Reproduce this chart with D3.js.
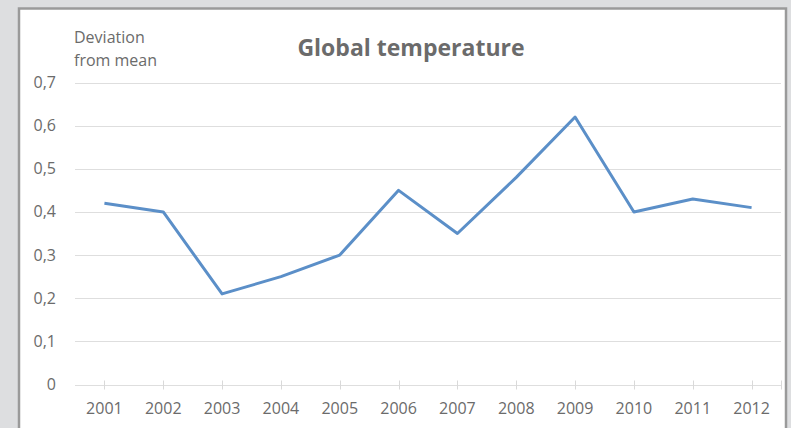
<!DOCTYPE html>
<html>
<head>
<meta charset="utf-8">
<script src="https://cdn.jsdelivr.net/npm/d3@7"></script>
<style>
    body { margin: 0; background: #dddee0; }
    svg { display: block; }
    text { font-family: "Open Sans", sans-serif; fill: #6b6b6b; }
</style>
</head>
<body>
<script>
// Chart values.
var years = ['2001', '2002', '2003', '2004', '2005', '2006',
    '2007', '2008', '2009', '2010', '2011', '2012'];
var deviation = [0.42, 0.40, 0.21, 0.25, 0.30, 0.45,
    0.35, 0.48, 0.62, 0.40, 0.43, 0.41];
var yTicks = [0, 0.1, 0.2, 0.3, 0.4, 0.5, 0.6, 0.7];

var width = 791;
var height = 428;

var svg = d3.select('body').append('svg')
    .attr('width', width)
    .attr('height', height);

// Chart frame.
svg.append('rect')
    .attr('x', 19)
    .attr('y', 8.5)
    .attr('width', 767)
    .attr('height', 430)
    .attr('fill', '#fff')
    .attr('stroke', '#9a9a9a')
    .attr('stroke-width', 2.5);

var x = d3.scaleBand()
    .domain(years)
    .range([75, 781]);

var y = d3.scaleLinear()
    .domain([0, 0.7])
    .range([384.5, 82.5]);

var fmt = function (d) {
    return d === 0 ? '0' : d3.format('.1f')(d).replace('.', ',');
};

// Horizontal gridlines.
svg.append('g')
    .selectAll('line')
    .data(yTicks)
    .enter()
    .append('line')
    .attr('x1', 75)
    .attr('x2', 781)
    .attr('y1', function (d) { return Math.round(y(d)) + 0.5; })
    .attr('y2', function (d) { return Math.round(y(d)) + 0.5; })
    .attr('stroke', '#dedede')
    .attr('stroke-width', 1);

// Y tick labels.
svg.append('g')
    .selectAll('text')
    .data(yTicks)
    .enter()
    .append('text')
    .attr('x', 56)
    .attr('y', function (d) { return y(d) + 5.5; })
    .attr('text-anchor', 'end')
    .style('font-size', '16px')
    .text(fmt);

// X tick marks at category centres, plus the right end.
var tickXs = years.map(function (d) { return x(d) + x.bandwidth() / 2; });
tickXs.push(781);

svg.append('g')
    .selectAll('line')
    .data(tickXs)
    .enter()
    .append('line')
    .attr('x1', function (d) { return Math.round(d) + 0.5; })
    .attr('x2', function (d) { return Math.round(d) + 0.5; })
    .attr('y1', Math.round(y(0)) - 4.5)
    .attr('y2', Math.round(y(0)) + 4.5)
    .attr('stroke', '#d9d9d9');

// X labels.
svg.append('g')
    .selectAll('text')
    .data(years)
    .enter()
    .append('text')
    .attr('x', function (d) { return x(d) + x.bandwidth() / 2; })
    .attr('y', 414)
    .attr('text-anchor', 'middle')
    .style('font-size', '16px')
    .text(function (d) { return d; });

// The line.
var line = d3.line()
    .x(function (d, i) { return x(years[i]) + x.bandwidth() / 2; })
    .y(function (d) { return y(d); });

svg.append('path')
    .datum(deviation)
    .attr('d', line)
    .attr('fill', 'none')
    .attr('stroke', '#5b8fc8')
    .attr('stroke-width', 3)
    .attr('stroke-linejoin', 'round');

// Title and axis caption.
svg.append('text')
    .attr('x', 411)
    .attr('y', 56)
    .attr('text-anchor', 'middle')
    .style('font-size', '23px')
    .style('font-weight', 'bold')
    .text('Global temperature');

svg.append('text')
    .attr('x', 74)
    .attr('y', 43)
    .style('font-size', '16px')
    .text('Deviation');

svg.append('text')
    .attr('x', 74)
    .attr('y', 66)
    .style('font-size', '16px')
    .text('from mean');
</script>
</body>
</html>
